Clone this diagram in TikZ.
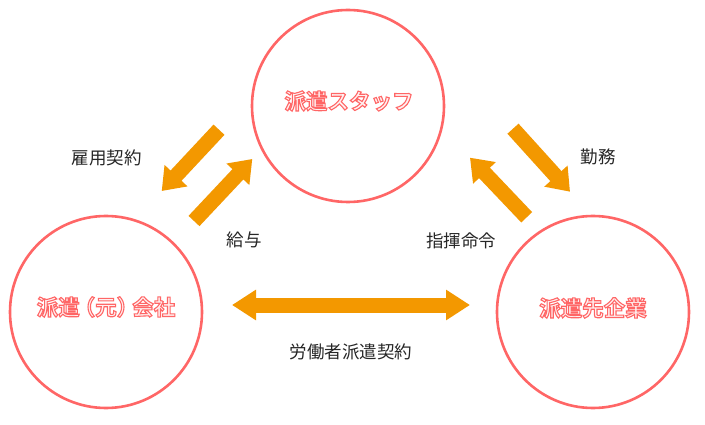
\documentclass[tikz,border=0pt]{standalone}
\usepackage{fontspec}
\setmainfont{Noto Sans CJK JP}
\newfontfamily\jpbold{Noto Sans CJK JP Bold}
\usetikzlibrary{arrows.meta}
\definecolor{ring}{HTML}{FF6666}
\definecolor{arr}{HTML}{F39800}
\definecolor{pale}{HTML}{FFF0F0}
\newcommand{\outlinetext}[1]{\special{pdf:literal direct 2 Tr 1.1 w 1 0.4 0.4 RG 1 0.94 0.94 rg}#1\special{pdf:literal direct 0 Tr}}
\begin{document}
\begin{tikzpicture}[x=1pt,y=-1pt,
  party/.style={circle,draw=ring,line width=2.6pt,minimum size=192pt,inner sep=0pt},
  ptext/.style={font=\jpbold\fontsize{21.5pt}{21.5pt}\selectfont,text=ring,inner sep=0pt},
  lbl/.style={font=\fontsize{17.5pt}{17.5pt}\selectfont,text=black!85,inner sep=0pt},
  blockarrow/.style={draw=arr,line width=15pt,-{Triangle[length=21pt,width=30pt]}},
  dblarrow/.style={draw=arr,line width=15pt,{Triangle[length=24pt,width=29pt]}-{Triangle[length=24pt,width=29pt]}}]
\useasboundingbox[fill=white] (0,0) rectangle (705,425);
% circles
\node[party] (staff) at (348,106) {};
\node[party] (moto) at (106,312) {};
\node[party] (saki) at (593,312) {};
% circle labels
\node[ptext] (tstaff) at (349,101) {\outlinetext{派遣スタッフ}};
\node[ptext] (tmoto) at (106,307) {\outlinetext{派遣\kern-6pt（元）\kern-6pt会社}};
\node[ptext] (tsaki) at (593,308) {\outlinetext{派遣先企業}};
% arrow end points
\coordinate (a1s) at (219,129.7);
\coordinate (a1e) at (161.7,191);
\coordinate (a2s) at (194,221);
\coordinate (a2e) at (252.3,159);
\coordinate (a3s) at (513,128.7);
\coordinate (a3e) at (570,191.7);
\coordinate (a4s) at (526.7,217.3);
\coordinate (a4e) at (470,157.7);
\coordinate (hl) at (232,305);
\coordinate (hr) at (470,305);
\draw[blockarrow] (a1s) -- (a1e);
\draw[blockarrow] (a2s) -- (a2e);
\draw[blockarrow] (a3s) -- (a3e);
\draw[blockarrow] (a4s) -- (a4e);
\draw[dblarrow] (hl) -- (hr);
% labels
\node[lbl] (l1) at (106.7,157.5) {雇用契約};
\node[lbl] (l2) at (244,240) {給与};
\node[lbl] (l3) at (598.3,157) {勤務};
\node[lbl] (l4) at (461.3,241) {指揮命令};
\node[lbl] (l5) at (351,352) {労働者派遣契約};
\end{tikzpicture}
\end{document}
